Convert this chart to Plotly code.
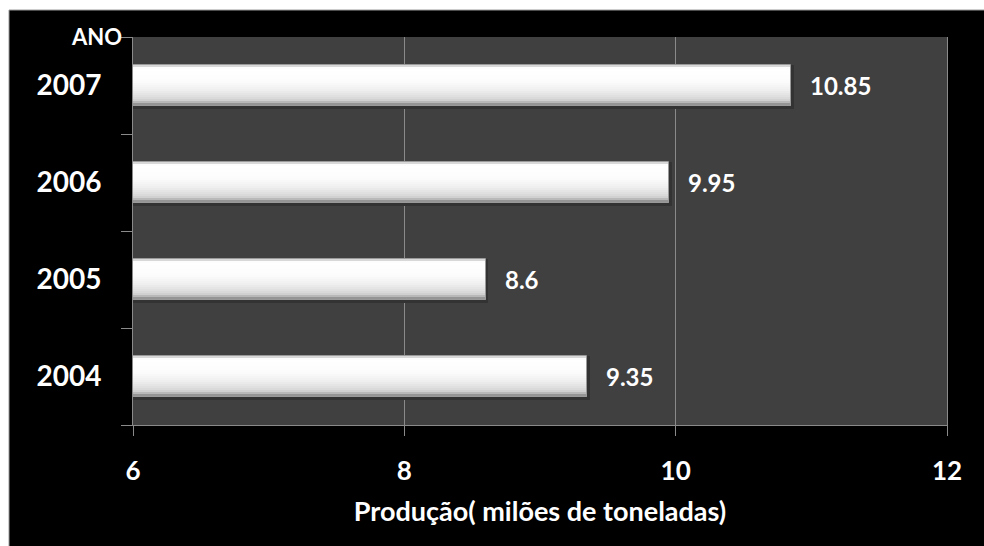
import plotly.graph_objects as go

# Annual production (millions of tonnes)
years = ["2004", "2005", "2006", "2007"]
production = [9.35, 8.6, 9.95, 10.85]
x_ticks = [6, 8, 10, 12]
x_range = [6, 12]

W, H = 984, 546
ML, MR, MT, MB = 133, 37, 37, 121
band_px = (H - MT - MB) / len(years)   # height of one category band
bar_px = 41                             # bar thickness
step_px = 2

GRID = "#8a8a8a"
FONT = "Lato"


def bar_grey(t):
    """Vertical shading of a bar, t = 0 at its top edge, 1 at its bottom."""
    stops = [(0.00, 170), (0.04, 245), (0.08, 255), (0.40, 252),
             (0.60, 240), (0.78, 222), (0.88, 205), (0.93, 160), (1.00, 125)]
    for (t0, g0), (t1, g1) in zip(stops, stops[1:]):
        if t <= t1:
            g = g0 + (g1 - g0) * (t - t0) / (t1 - t0)
            return int(round(g))
    return stops[-1][1]


lengths = [v - x_range[0] for v in production]

fig = go.Figure()

# soft shadow under each bar
fig.add_trace(go.Bar(
    y=years, x=[v + 0.02 for v in lengths], orientation="h",
    base=x_range[0],
    width=(bar_px + 3) / band_px, offset=-(bar_px / 2 + 3) / band_px,
    marker=dict(color="#333333", line=dict(width=0)),
    hoverinfo="skip", showlegend=False,
))

# bar body built from top-to-bottom shading layers
for top in range(0, bar_px, step_px):
    g = bar_grey((top + step_px / 2) / bar_px)
    height = bar_px - top
    fig.add_trace(go.Bar(
        y=years, x=lengths, orientation="h",
        base=x_range[0],
        width=height / band_px,
        offset=-(bar_px / 2) / band_px,
        marker=dict(color=f"rgb({g},{g},{g})", line=dict(width=0)),
        hoverinfo="skip", showlegend=False,
    ))

# thin outline around each bar
fig.add_trace(go.Bar(
    y=years, x=lengths, orientation="h",
    base=x_range[0],
    width=bar_px / band_px, offset=-(bar_px / 2) / band_px,
    marker=dict(color="rgba(0,0,0,0)", line=dict(color="#9a9a9a", width=1)),
    customdata=production,
    hovertemplate="%{y}: %{customdata}<extra></extra>", showlegend=False,
))

annotations = [
    dict(x=v, y=i, xref="x", yref="y", text=f"{v:g}", showarrow=False,
         xanchor="left", yanchor="middle", xshift=17,
         font=dict(family=FONT, size=24, color="white", weight="bold"))
    for i, v in enumerate(production)
]
annotations.append(dict(
    x=0, y=1, xref="paper", yref="paper", text="ANO", showarrow=False,
    xanchor="right", yanchor="middle", xshift=-9, yshift=1,
    font=dict(family=FONT, size=22, color="white", weight="bold"),
))

# white page margin around the black chart area
pw = W - ML - MR
ph = H - MT - MB
shapes = [
    dict(type="rect", xref="paper", yref="paper", layer="above",
         x0=(0 - ML) / pw, x1=(W - ML) / pw,
         y0=(H - MB - 10) / ph, y1=(H - MB) / ph + 0.01,
         fillcolor="white", line=dict(width=0)),
    dict(type="rect", xref="paper", yref="paper", layer="above",
         x0=(0 - ML) / pw - 0.01, x1=(9 - ML) / pw,
         y0=-MB / ph - 0.01, y1=(H - MB) / ph + 0.01,
         fillcolor="white", line=dict(width=0)),
    dict(type="line", xref="paper", yref="paper", layer="above",
         x0=(9 - ML) / pw, x1=(W - ML) / pw,
         y0=(H - MB - 10) / ph, y1=(H - MB - 10) / ph,
         line=dict(color="#9a9a9a", width=1)),
    dict(type="line", xref="paper", yref="paper", layer="above",
         x0=(9 - ML) / pw, x1=(9 - ML) / pw,
         y0=-MB / ph - 0.01, y1=(H - MB - 10) / ph,
         line=dict(color="#9a9a9a", width=1)),
]

fig.update_layout(
    width=W, height=H,
    margin=dict(l=ML, r=MR, t=MT, b=MB),
    paper_bgcolor="black", plot_bgcolor="#404040",
    barmode="overlay", bargap=0,
    showlegend=False,
    annotations=annotations, shapes=shapes,
    xaxis=dict(
        range=x_range, tickvals=x_ticks, ticktext=[str(t) for t in x_ticks],
        showgrid=True, gridcolor=GRID, gridwidth=1, zeroline=False,
        showline=True, linecolor=GRID, linewidth=1,
        ticks="outside", ticklen=10, tickcolor=GRID, tickwidth=1,
        ticklabelstandoff=13,
        tickfont=dict(family=FONT, size=26, color="white", weight="bold"),
        title=dict(text="Produção( milões de toneladas)", standoff=16,
                   font=dict(family=FONT, size=27, color="white", weight="bold")),
    ),
    yaxis=dict(
        type="category", categoryorder="array", categoryarray=years,
        range=[-0.5, len(years) - 0.5], tickson="boundaries",
        showgrid=False, zeroline=False,
        showline=True, linecolor=GRID, linewidth=1, mirror=True,
        ticks="outside", ticklen=11, tickcolor=GRID, tickwidth=1,
        ticklabelstandoff=25,
        tickfont=dict(family=FONT, size=28, color="white", weight="bold"),
    ),
)

fig.write_html("out.html")
